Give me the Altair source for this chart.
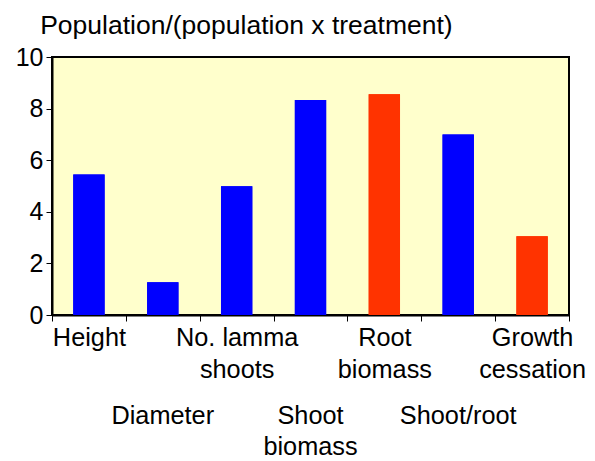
import altair as alt
import pandas as pd

categories = ["Height", "Diameter", "No. lamma shoots", "Shoot biomass",
              "Root biomass", "Shoot/root", "Growth cessation"]
label_lines = [["Height"], ["Diameter"], ["No. lamma", "shoots"], ["Shoot", "biomass"],
               ["Root", "biomass"], ["Shoot/root"], ["Growth", "cessation"]]
values = [5.45, 1.27, 4.99, 8.33, 8.56, 7.0, 3.05]
groups = ["blue", "blue", "blue", "blue", "red", "blue", "red"]

df = pd.DataFrame({"category": categories, "value": values, "group": groups})


def label_expr(row):
    expr = "''"
    for i in reversed(range(len(categories))):
        if i % 2 != row:
            continue
        arr = "[" + ",".join("'" + s + "'" for s in label_lines[i]) + "]"
        expr = f"datum.value == '{categories[i]}' ? {arr} : ({expr})"
    return expr


FONT = "Liberation Sans"
LFS = 25.3

y_enc = alt.Y("value:Q", title=None,
              scale=alt.Scale(domain=[0, 10], nice=False),
              axis=alt.Axis(values=[0, 2, 4, 6, 8, 10], grid=False, labelFontSize=25,
                            labelFont=FONT, labelColor="black", labelPadding=3,
                            tickSize=6, tickColor="black", tickWidth=1,
                            domainColor="black", domainWidth=2))
color_enc = alt.Color("group:N", legend=None,
                      scale=alt.Scale(domain=["blue", "red"], range=["#0000FF", "#FF3300"]))
x_scale = alt.Scale(paddingInner=0, paddingOuter=0)

base = alt.Chart(df).mark_bar(width=alt.RelativeBandSize(0.424))

row1 = base.encode(
    x=alt.X("category:N", sort=categories, title=None, scale=x_scale,
            axis=alt.Axis(orient="bottom", labelAngle=0, labelExpr=label_expr(0),
                          labelFontSize=LFS, labelFont=FONT, labelColor="black",
                          labelLineHeight=32, labelPadding=4, labelBaseline="top",
                          tickBand="extent", tickSize=6, tickColor="black", tickWidth=1,
                          domainColor="black", domainWidth=2)),
    y=y_enc, color=color_enc,
)

row2 = base.encode(
    x=alt.X("category:N", sort=categories, title=None, scale=x_scale,
            axis=alt.Axis(orient="bottom", labelAngle=0, labelExpr=label_expr(1),
                          labelFontSize=LFS, labelFont=FONT, labelColor="black",
                          labelLineHeight=31, labelPadding=88, labelBaseline="top",
                          ticks=False, domain=False)),
    y=y_enc, color=color_enc,
)

chart = alt.layer(row1, row2).resolve_axis(x="independent").properties(
    width=517, height=258,
    title=alt.TitleParams("Population/(population x treatment)", anchor="start",
                          frame="bounds", fontSize=26.5, font=FONT, fontWeight="normal",
                          color="black", dx=25, offset=6),
    padding={"left": 7, "top": 4, "right": 0, "bottom": 0},
).configure_view(
    fill="#FFFFCC", stroke="black", strokeWidth=2
)

chart.save("out.html", embed_options={"renderer": "svg", "actions": False})
